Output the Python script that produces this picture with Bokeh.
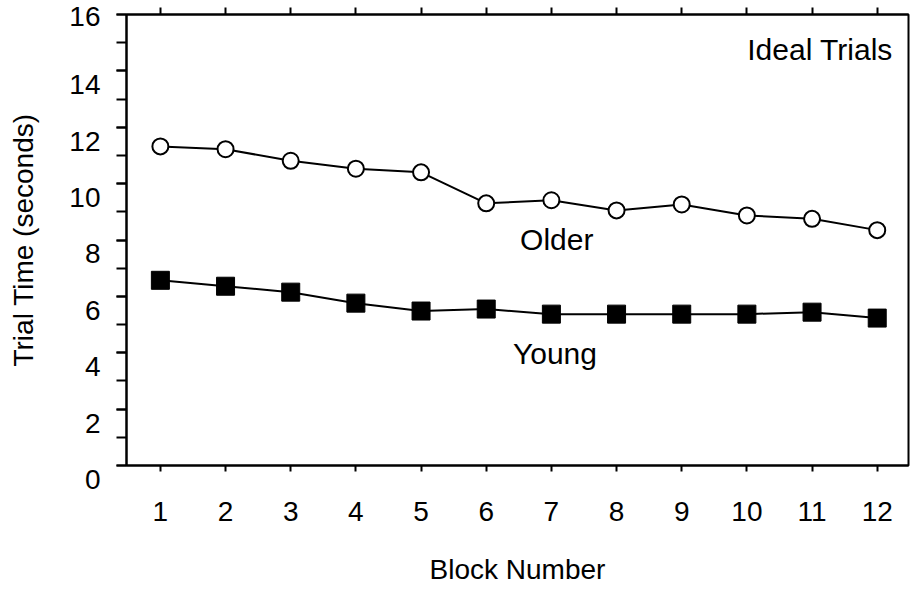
from bokeh.plotting import figure
from bokeh.models import LinearAxis, FixedTicker, SingleIntervalTicker, Range1d
from bokeh.core.properties import value
from bokeh.embed import file_html
from bokeh.resources import INLINE

blocks = [1, 2, 3, 4, 5, 6, 7, 8, 9, 10, 11, 12]
older = [11.32, 11.22, 10.81, 10.53, 10.40, 9.30, 9.41, 9.05, 9.26, 8.87, 8.75, 8.35]
young = [6.57, 6.36, 6.15, 5.76, 5.48, 5.55, 5.37, 5.37, 5.37, 5.37, 5.44, 5.23]
y_ticks = [0, 2, 4, 6, 8, 10, 12, 14, 16]
x_label = "Block Number"
y_label = "Trial Time (seconds)"
panel_title = "Ideal Trials"
series_names = ["Older", "Young"]

FONT = "Liberation Sans"
X_START, X_END = 0.48, 12.48

p = figure(width=910, height=590, output_backend="svg", toolbar_location=None,
           x_range=Range1d(X_START, X_END), y_range=Range1d(0, 16),
           x_axis_location=None, y_axis_location=None,
           min_border_left=126, min_border_right=2, min_border_top=14, min_border_bottom=125)
p.grid.visible = False
p.outline_line_color = "black"
p.outline_line_width = 2
p.background_fill_color = "white"
p.border_fill_color = "white"

xb = LinearAxis(ticker=FixedTicker(ticks=blocks), axis_label=x_label)
xb.major_tick_out = 6
xb.major_tick_in = 0
xb.minor_tick_out = 0
xb.axis_line_width = 2
xb.major_tick_line_width = 2
xb.major_label_standoff = 30
xb.major_label_text_font = FONT
xb.major_label_text_font_size = "28px"
xb.major_label_text_color = "black"
xb.axis_label_standoff = 30
xb.axis_label_text_font = FONT
xb.axis_label_text_font_size = "28px"
xb.axis_label_text_font_style = "normal"
xb.axis_label_text_color = "black"
p.add_layout(xb, "below")

xt = LinearAxis(ticker=FixedTicker(ticks=blocks))
xt.major_tick_out = 7
xt.major_tick_in = 0
xt.minor_tick_out = 0
xt.axis_line_width = 2
xt.major_tick_line_width = 2
xt.major_label_overrides = {t: "" for t in blocks}
p.add_layout(xt, "above")

yl = LinearAxis(ticker=SingleIntervalTicker(interval=2, num_minor_ticks=2), axis_label=y_label)
yl.major_tick_out = 10
yl.major_tick_in = 0
yl.minor_tick_out = 10
yl.minor_tick_in = 0
yl.axis_line_width = 2
yl.major_tick_line_width = 2
yl.minor_tick_line_width = 2
# in the original the tick labels sit a little below their ticks:
# an empty first line pushes each label down (the top one stays at its tick)
yl.major_label_overrides = {t: (str(t) if t == y_ticks[-1] else "\n" + str(t)) for t in y_ticks}
yl.major_label_text_line_height = 0.9
yl.major_label_standoff = 16
yl.major_label_text_font = FONT
yl.major_label_text_font_size = "28px"
yl.major_label_text_color = "black"
yl.axis_label_standoff = 27
yl.axis_label_text_font = FONT
yl.axis_label_text_font_size = "28px"
yl.axis_label_text_font_style = "normal"
yl.axis_label_text_color = "black"
p.add_layout(yl, "left")

p.line(blocks, older, line_color="black", line_width=2)
p.scatter(blocks, older, marker="circle", size=16, fill_color="white", line_color="black", line_width=2)
p.line(blocks, young, line_color="black", line_width=2)
p.scatter(blocks, young, marker="square", size=18, fill_color="black", line_color="black")

p.text(x=[6.52], y=[8.02], text=[series_names[0]], text_font=value(FONT), text_font_size="30px",
       text_align="left", text_baseline="middle", text_color="black")
p.text(x=[6.41], y=[3.99], text=[series_names[1]], text_font=value(FONT), text_font_size="30px",
       text_align="left", text_baseline="middle", text_color="black")
p.text(x=[12.24], y=[14.77], text=[panel_title], text_font=value(FONT), text_font_size="30px",
       text_align="right", text_baseline="middle", text_color="black")

open("out.html", "w").write(file_html(p, INLINE))
